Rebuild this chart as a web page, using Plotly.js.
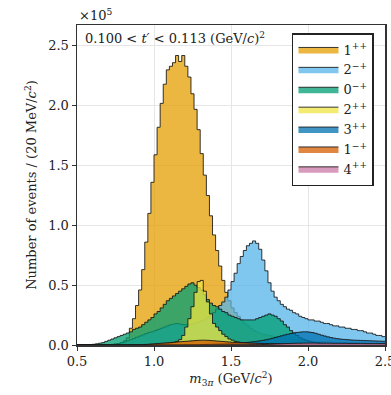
<!DOCTYPE html>
<html>
<head>
<meta charset="utf-8">
<script src="https://cdn.plot.ly/plotly-3.0.1.min.js"></script>
<style>html,body{margin:0;padding:0;background:#fff;}#chart{width:391px;height:395px;}</style>
</head>
<body>
<div id="chart"></div>
<script>
// Bin layout: 20 MeV/c^2 bins from 0.5 to 2.5 GeV/c^2
const binStart = 0.5;
const binWidth = 0.02;
const nBins = 100;

// Event counts per bin (units of 1e5)
const wave1pp = [
  0,0,0,0,0,0,0,0,0.001,0.002,
  0.003,0.005,0.008,0.012,0.02,0.035,0.06,0.14,0.22,0.33,
  0.46,0.63,0.86,1.10,1.36,1.59,1.82,2.02,2.18,2.30,
  2.33,2.36,2.42,2.37,2.42,2.33,2.24,2.10,1.97,1.80,
  1.60,1.42,1.25,1.08,0.92,0.79,0.66,0.54,0.44,0.37,
  0.31,0.27,0.24,0.21,0.18,0.16,0.14,0.12,0.11,0.10,
  0.09,0.085,0.08,0.075,0.07,0.065,0.06,0.055,0.05,0.048,
  0.045,0.043,0.04,0.038,0.036,0.034,0.032,0.03,0.029,0.028,
  0.027,0.026,0.025,0.024,0.023,0.022,0.021,0.02,0.019,0.018,
  0.018,0.017,0.016,0.016,0.015,0.015,0.014,0.014,0.013,0.013
];
const wave2mp = [
  0,0,0,0,0,0,0,0,0,0.001,
  0.003,0.005,0.008,0.012,0.018,0.025,0.035,0.045,0.055,0.065,
  0.075,0.085,0.095,0.105,0.11,0.12,0.13,0.14,0.15,0.16,
  0.17,0.175,0.18,0.175,0.17,0.17,0.17,0.175,0.18,0.19,
  0.20,0.21,0.23,0.25,0.27,0.30,0.33,0.36,0.40,0.46,
  0.53,0.60,0.68,0.74,0.79,0.83,0.85,0.87,0.85,0.80,
  0.71,0.62,0.52,0.45,0.40,0.37,0.34,0.32,0.30,0.29,
  0.27,0.26,0.24,0.23,0.22,0.21,0.21,0.20,0.20,0.19,
  0.18,0.18,0.17,0.16,0.16,0.15,0.15,0.14,0.14,0.13,
  0.13,0.12,0.12,0.11,0.10,0.10,0.09,0.08,0.08,0.07
];
const wave0mp = [
  0,0,0,0.002,0.004,0.006,0.01,0.015,0.02,0.03,
  0.04,0.05,0.06,0.07,0.08,0.09,0.10,0.11,0.13,0.14,
  0.15,0.17,0.19,0.21,0.23,0.26,0.28,0.31,0.34,0.37,
  0.39,0.41,0.43,0.45,0.47,0.49,0.51,0.52,0.50,0.48,
  0.46,0.42,0.38,0.35,0.33,0.32,0.30,0.28,0.27,0.25,
  0.24,0.23,0.22,0.21,0.21,0.21,0.21,0.21,0.22,0.23,
  0.24,0.25,0.26,0.25,0.24,0.22,0.20,0.17,0.15,0.12,
  0.10,0.08,0.06,0.05,0.04,0.03,0.025,0.02,0.018,0.016,
  0.015,0.014,0.013,0.012,0.011,0.01,0.01,0.009,0.009,0.008,
  0.008,0.007,0.007,0.006,0.006,0.006,0.005,0.005,0.005,0.005
];
const wave2pp = [
  0,0,0,0,0,0,0,0,0,0,
  0,0,0,0,0,0,0,0,0,0,
  0.001,0.001,0.002,0.002,0.003,0.004,0.005,0.007,0.009,0.012,
  0.016,0.022,0.03,0.045,0.08,0.15,0.22,0.32,0.44,0.53,
  0.54,0.45,0.36,0.26,0.18,0.15,0.12,0.09,0.07,0.05,
  0.04,0.03,0.025,0.02,0.017,0.015,0.013,0.011,0.01,0.009,
  0.008,0.007,0.007,0.006,0.006,0.005,0.005,0.005,0.004,0.004,
  0.004,0.004,0.004,0.004,0.003,0.003,0.003,0.003,0.003,0.003,
  0.003,0.003,0.003,0.003,0.003,0.002,0.002,0.002,0.002,0.002,
  0.002,0.002,0.002,0.002,0.002,0.002,0.002,0.002,0.002,0.002
];
const wave3pp = [
  0,0,0,0,0,0,0,0,0,0,
  0,0,0,0,0,0,0,0,0,0,
  0,0,0,0,0,0.001,0.001,0.001,0.001,0.001,
  0.002,0.002,0.002,0.002,0.002,0.003,0.003,0.003,0.003,0.003,
  0.004,0.005,0.006,0.007,0.008,0.009,0.01,0.011,0.012,0.013,
  0.014,0.015,0.016,0.018,0.02,0.022,0.025,0.028,0.031,0.035,
  0.039,0.044,0.05,0.056,0.063,0.07,0.077,0.084,0.09,0.096,
  0.10,0.105,0.108,0.11,0.11,0.108,0.104,0.098,0.09,0.082,
  0.075,0.068,0.062,0.057,0.053,0.05,0.047,0.045,0.043,0.041,
  0.04,0.039,0.038,0.037,0.036,0.035,0.034,0.033,0.032,0.031
];
const wave1mp = [
  0,0,0,0,0,0,0,0,0,0,
  0,0,0,0,0,0,0,0,0.001,0.001,
  0.002,0.003,0.005,0.007,0.009,0.011,0.013,0.015,0.017,0.019,
  0.021,0.023,0.025,0.027,0.029,0.031,0.033,0.035,0.037,0.039,
  0.04,0.04,0.039,0.037,0.035,0.033,0.031,0.029,0.027,0.025,
  0.023,0.021,0.02,0.019,0.018,0.017,0.016,0.015,0.014,0.013,
  0.012,0.012,0.011,0.011,0.01,0.01,0.009,0.009,0.008,0.008,
  0.008,0.008,0.007,0.007,0.007,0.007,0.006,0.006,0.006,0.006,
  0.006,0.005,0.005,0.005,0.005,0.005,0.005,0.005,0.004,0.004,
  0.004,0.004,0.004,0.004,0.004,0.004,0.004,0.004,0.004,0.004
];
const wave4pp = [
  0,0,0,0,0,0,0,0,0,0,
  0,0,0,0,0,0,0,0,0,0,
  0,0,0,0,0,0,0,0,0,0,
  0,0,0,0,0,0,0,0,0,0,
  0.001,0.001,0.001,0.001,0.001,0.001,0.001,0.001,0.001,0.001,
  0.002,0.002,0.002,0.002,0.002,0.002,0.003,0.003,0.003,0.003,
  0.004,0.005,0.006,0.007,0.008,0.009,0.01,0.011,0.012,0.013,
  0.014,0.015,0.015,0.016,0.016,0.016,0.016,0.016,0.015,0.015,
  0.015,0.015,0.015,0.014,0.014,0.014,0.014,0.014,0.013,0.013,
  0.013,0.013,0.013,0.013,0.012,0.012,0.012,0.012,0.012,0.012
];

const waveLabels = ["1<sup>++</sup>","2<sup>\u2212+</sup>","0<sup>\u2212+</sup>","2<sup>++</sup>","3<sup>++</sup>","1<sup>\u2212+</sup>","4<sup>++</sup>"];
const waveValues = [wave1pp, wave2mp, wave0mp, wave2pp, wave3pp, wave1mp, wave4pp];
const waveColors = ["230,159,0","86,180,233","0,158,115","240,228,66","0,114,178","213,94,0","204,121,167"];
const xTickVals = [0.5,1.0,1.5,2.0,2.5];
const yTickVals = [0,0.5,1.0,1.5,2.0,2.5];

const edges = [];
for (let i = 0; i <= nBins; i++) edges.push(+(binStart + i*binWidth).toFixed(4));

const FONT = "DejaVu Serif, serif";

const traces = waveValues.map((vals, k) => ({
  type: "scatter",
  mode: "lines",
  x: edges,
  y: vals.concat([vals[vals.length-1]]),
  line: {shape: "hv", color: "rgba(20,20,20,0.85)", width: 1},
  fill: "tozeroy",
  fillcolor: "rgba(" + waveColors[k] + ",0.75)",
  name: waveLabels[k],
  hoverinfo: "skip"
}));

const layout = {
  width: 391, height: 395,
  margin: {l: 77, r: 6, t: 25, b: 50},
  paper_bgcolor: "#fff", plot_bgcolor: "#fff",
  font: {family: FONT, size: 13, color: "#222"},
  showlegend: true,
  legend: {
    x: 0.698, y: 0.975, xanchor: "left", yanchor: "top",
    bgcolor: "#fff", bordercolor: "#222", borderwidth: 1.5,
    font: {family: FONT, size: 13, color: "#222"},
    tracegroupgap: 0, traceorder: "normal", itemwidth: 40
  },
  xaxis: {
    range: [0.5, 2.5], tickvals: xTickVals, ticktext: xTickVals.map(v => v.toFixed(1)),
    ticklabeloverflow: "allow",
    showline: true, mirror: true, linecolor: "#333", linewidth: 1.5,
    ticks: "outside", ticklen: 4, tickcolor: "#333",
    showgrid: true, gridcolor: "#e6e6e6", gridwidth: 1, zeroline: false,
    title: {text: "<i>m</i><sub>3<i>\u03c0</i></sub> (GeV/<i>c</i><sup>2</sup>)", font: {size: 13}, standoff: 6}
  },
  yaxis: {
    range: [0, 2.675], tickvals: yTickVals, ticktext: yTickVals.map(v => v.toFixed(1)),
    showline: true, mirror: true, linecolor: "#333", linewidth: 1.5,
    ticks: "outside", ticklen: 4, tickcolor: "#333",
    showgrid: true, gridcolor: "#e6e6e6", gridwidth: 1, zeroline: false,
    title: {text: "Number of events / (20 MeV/<i>c</i><sup>2</sup>)", font: {size: 13}, standoff: 8}
  },
  annotations: [
    {xref: "paper", yref: "paper", x: 0, y: 1, xanchor: "left", yanchor: "bottom",
     text: "\u00d710<sup>5</sup>", showarrow: false, font: {size: 13}},
    {xref: "paper", yref: "paper", x: 0.02, y: 0.99, xanchor: "left", yanchor: "top",
     text: "0.100 < <i>t\u2032</i> < 0.113 (GeV/<i>c</i>)<sup>2</sup>", showarrow: false, font: {size: 13}}
  ]
};

Plotly.newPlot("chart", traces, layout, {staticPlot: true});
</script>
</body>
</html>
